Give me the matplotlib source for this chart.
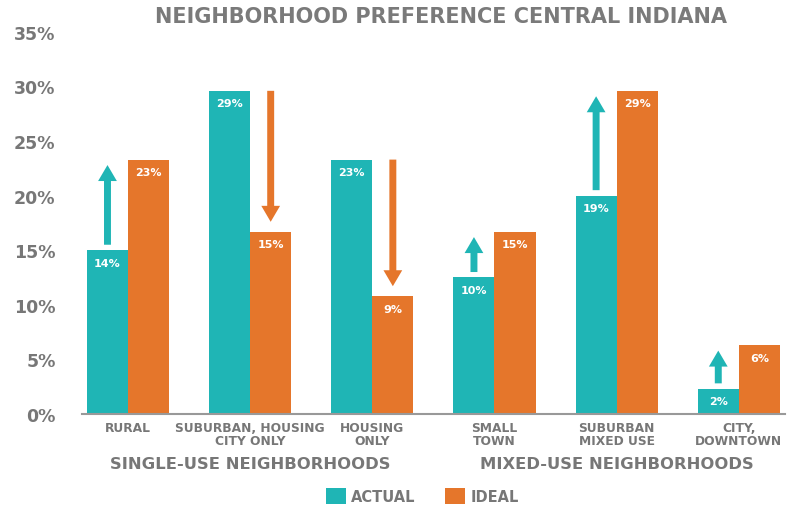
import matplotlib.pyplot as plt
import numpy as np

categories = ['RURAL', 'SUBURBAN, HOUSING\nCITY ONLY', 'HOUSING\nONLY',
              'SMALL\nTOWN', 'SUBURBAN\nMIXED USE', 'CITY,\nDOWNTOWN']
actual = [15.0, 29.6, 23.3, 12.5, 20.0, 2.3]
ideal = [23.3, 16.7, 10.8, 16.7, 29.6, 6.3]
actual_labels = ['14%', '29%', '23%', '10%', '19%', '2%']
ideal_labels = ['23%', '15%', '9%', '15%', '29%', '6%']
groups = ['SINGLE-USE NEIGHBORHOODS', 'MIXED-USE NEIGHBORHOODS']
group_members = [[0, 1, 2], [3, 4, 5]]

teal = '#1fb5b5'
orange = '#e5762b'
gray = '#777777'

fig = plt.figure(figsize=(7.88, 5.06), dpi=100)
ax = fig.add_axes([0.104, 0.180, 0.892, 0.755])

x = np.arange(len(categories))
w = 0.336
ax.bar(x - w / 2, actual, w, color=teal, label='ACTUAL')
ax.bar(x + w / 2, ideal, w, color=orange, label='IDEAL')

# value labels inside the bars
for i in range(len(categories)):
    ax.annotate(actual_labels[i], (x[i] - w / 2, actual[i]), xytext=(0, -9),
                textcoords='offset points', ha='center', va='center',
                color='white', fontsize=8, fontweight='bold')
    ax.annotate(ideal_labels[i], (x[i] + w / 2, ideal[i]), xytext=(0, -9),
                textcoords='offset points', ha='center', va='center',
                color='white', fontsize=8, fontweight='bold')

# arrows from actual toward ideal
style = 'simple,head_width=13.5,head_length=11.5,tail_width=5'
for i in range(len(categories)):
    if ideal[i] > actual[i]:
        xa, y0, y1, c = x[i] - w / 2, actual[i] + 0.5, ideal[i] - 0.5, teal
    else:
        xa, y0, y1, c = x[i] + w / 2, actual[i], ideal[i] + 0.9, orange
    ax.annotate('', xy=(xa, y1), xytext=(xa, y0),
                arrowprops=dict(arrowstyle=style, mutation_scale=1,
                                color=c, lw=0, shrinkA=0, shrinkB=0))

ax.set_xlim(-0.377, 5.377)
ax.set_ylim(0, 35)
ax.set_yticks(range(0, 36, 5))
ax.set_yticklabels([f'{v}%' for v in range(0, 36, 5)])
ax.set_xticks(x)
ax.set_xticklabels(categories, linespacing=1.05)
ax.tick_params(axis='y', length=0, pad=19, labelsize=12.5, labelcolor=gray)
ax.tick_params(axis='x', length=0, pad=5, labelsize=8.8, labelcolor=gray)
for lab in ax.get_yticklabels():
    lab.set_fontweight('bold')
for lab in ax.get_xticklabels():
    lab.set_fontweight('semibold')

for s in ['top', 'right', 'left']:
    ax.spines[s].set_visible(False)
ax.spines['bottom'].set_color('#999999')
ax.spines['bottom'].set_linewidth(1.5)

for name, members in zip(groups, group_members):
    ax.text(np.mean(x[members]), -0.131, name, transform=ax.get_xaxis_transform(),
            ha='center', va='center', fontsize=11.8, fontweight='bold', color=gray)

fig.text(0.56, 1 - 17 / 506, 'NEIGHBORHOOD PREFERENCE CENTRAL INDIANA',
         ha='center', va='center', fontsize=15, fontweight='bold', color='#7a7a7a')

leg = fig.legend(loc='center', bbox_to_anchor=(0.536, 1 - 497 / 506), ncol=2,
                 frameon=False, fontsize=10.5, handlelength=1.37, handleheight=1.37,
                 handletextpad=0.4, columnspacing=2.0)
for t in leg.get_texts():
    t.set_color(gray)
    t.set_fontweight('bold')

fig.savefig('out.png', dpi=100)
